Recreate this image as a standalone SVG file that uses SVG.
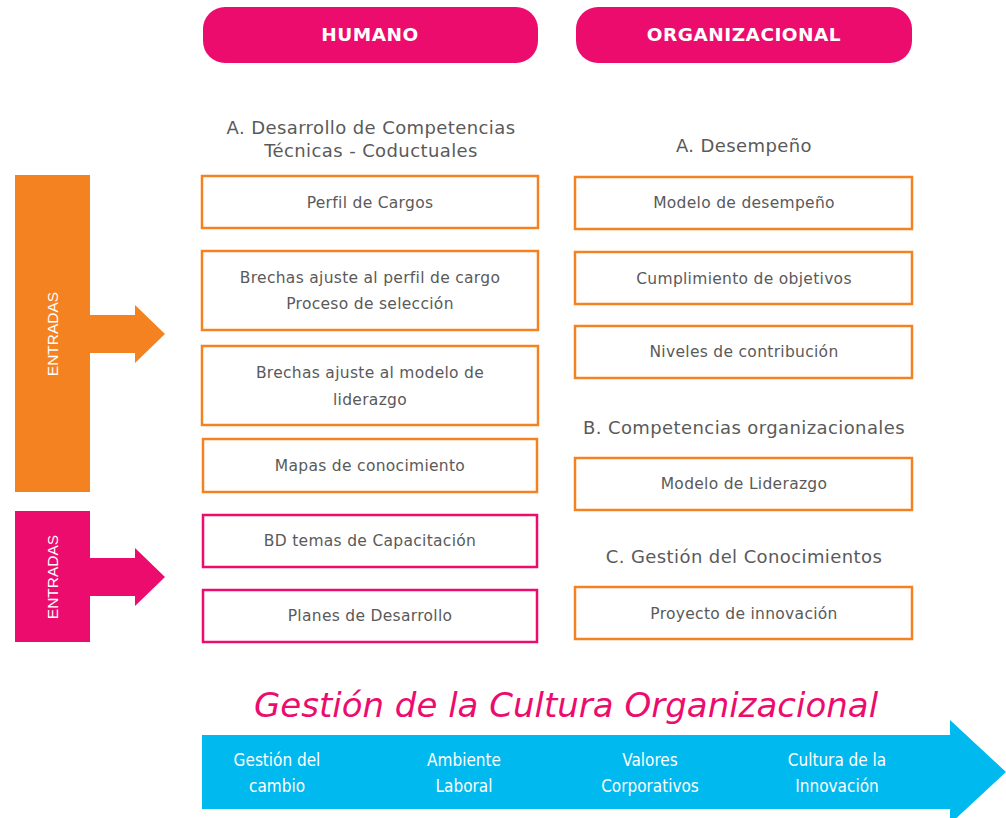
<svg xmlns="http://www.w3.org/2000/svg" width="1006" height="818" viewBox="0 0 1006 818">
<style>
.pill{fill:#ec0c6e}
.pt{font-family:"DejaVu Sans",Verdana,sans-serif;font-size:18.5px;font-weight:bold;fill:#fff;text-anchor:middle;letter-spacing:0.5px}
.h{font-family:"DejaVu Sans",Verdana,sans-serif;font-size:18px;fill:#5a5a5a;text-anchor:middle;letter-spacing:0.4px}
.bo{fill:#fff;stroke:#f58220;stroke-width:2.5}
.bp{fill:#fff;stroke:#ec0c6e;stroke-width:2.5}
.t{font-family:"DejaVu Sans",Verdana,sans-serif;font-size:15.5px;fill:#5a5a5a;text-anchor:middle;letter-spacing:0.3px}
.en{font-family:"Liberation Sans",Arial,sans-serif;font-size:15.5px;fill:#fff;text-anchor:middle}
.bt{font-family:"DejaVu Sans Condensed","DejaVu Sans",sans-serif;font-size:17px;fill:#fff;text-anchor:middle}
.title{font-family:"DejaVu Sans",Verdana,sans-serif;font-style:italic;font-size:34px;fill:#ec0c6e;text-anchor:middle}
</style>
<rect width="1006" height="818" fill="#fff"/>
<g id="humano"><rect class="pill" x="203" y="7" width="335" height="56" rx="22"/><text class="pt" x="370" y="41">HUMANO</text></g>
<g id="organizacional"><rect class="pill" x="576" y="7" width="336" height="56" rx="22"/><text class="pt" x="744" y="41">ORGANIZACIONAL</text></g>
<g id="headA1"><text class="h" x="371" y="134">A. Desarrollo de Competencias</text><text class="h" x="371" y="157">Técnicas - Coductuales</text></g>
<g id="headA2"><text class="h" x="744" y="152">A. Desempeño</text></g>
<g id="headB"><text class="h" x="744" y="434">B. Competencias organizacionales</text></g>
<g id="headC"><text class="h" x="744" y="563">C. Gestión del Conocimientos</text></g>
<g id="entradas1">
<rect x="15" y="175" width="75" height="317" fill="#f58220"/>
<polygon points="90,315 135,315 135,305 165,334 135,363 135,353 90,353" fill="#f58220"/>
<text class="en" transform="translate(58,334) rotate(-90)">ENTRADAS</text>
</g>
<g id="entradas2">
<rect x="15" y="511" width="75" height="131" fill="#ec0c6e"/>
<polygon points="90,558 135,558 135,548 165,577 135,606 135,596 90,596" fill="#ec0c6e"/>
<text class="en" transform="translate(58,577) rotate(-90)">ENTRADAS</text>
</g>
<g id="perfil"><rect class="bo" x="202" y="176" width="336" height="52"/><text class="t" x="370" y="208">Perfil de Cargos</text></g>
<g id="brechas1"><rect class="bo" x="202" y="251" width="336" height="79"/><text class="t" x="370" y="283">Brechas ajuste al perfil de cargo</text><text class="t" x="370" y="309">Proceso de selección</text></g>
<g id="brechas2"><rect class="bo" x="202" y="346" width="336" height="79"/><text class="t" x="370" y="378">Brechas ajuste al modelo de</text><text class="t" x="370" y="405">liderazgo</text></g>
<g id="mapas"><rect class="bo" x="203" y="439" width="334" height="53"/><text class="t" x="370" y="471">Mapas de conocimiento</text></g>
<g id="bd"><rect class="bp" x="203" y="515" width="334" height="52"/><text class="t" x="370" y="546">BD temas de Capacitación</text></g>
<g id="planes"><rect class="bp" x="203" y="590" width="334" height="52"/><text class="t" x="370" y="621">Planes de Desarrollo</text></g>
<g id="modelodes"><rect class="bo" x="575" y="177" width="337" height="52"/><text class="t" x="744" y="208">Modelo de desempeño</text></g>
<g id="cumpl"><rect class="bo" x="575" y="252" width="337" height="52"/><text class="t" x="744" y="284">Cumplimiento de objetivos</text></g>
<g id="niveles"><rect class="bo" x="575" y="326" width="337" height="52"/><text class="t" x="744" y="357">Niveles de contribución</text></g>
<g id="liderazgo"><rect class="bo" x="575" y="458" width="337" height="52"/><text class="t" x="744" y="489">Modelo de Liderazgo</text></g>
<g id="proyecto"><rect class="bo" x="575" y="587" width="337" height="52"/><text class="t" x="744" y="619">Proyecto de innovación</text></g>
<g id="title"><text class="title" x="566" y="717">Gestión de la Cultura Organizacional</text></g>
<g id="cultura">
<polygon points="202,735 950,735 950,720 1006,772 950,824 950,809 202,809" fill="#00b9ef"/>
<text class="bt" x="277" y="766">Gestión del</text><text class="bt" x="277" y="792">cambio</text>
<text class="bt" x="464" y="766">Ambiente</text><text class="bt" x="464" y="792">Laboral</text>
<text class="bt" x="650" y="766">Valores</text><text class="bt" x="650" y="792">Corporativos</text>
<text class="bt" x="837" y="766">Cultura de la</text><text class="bt" x="837" y="792">Innovación</text>
</g>
</svg>
